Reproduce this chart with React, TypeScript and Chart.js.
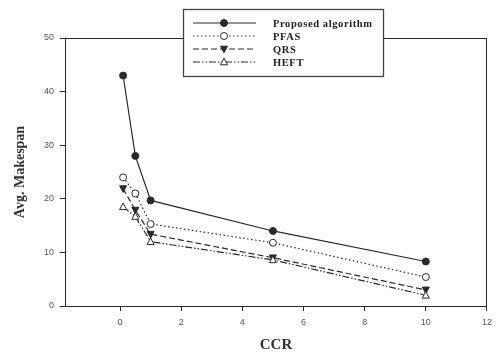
import React, { useEffect, useRef } from "react";
import { Chart, registerables } from "chart.js";

Chart.register(...registerables);

const ccr = [0.1, 0.5, 1, 5, 10];
const proposed = [43, 28, 19.7, 14, 8.3];
const pfas = [24, 21, 15.3, 11.8, 5.4];
const qrs = [21.9, 17.9, 13.4, 9, 3];
const heft = [18.5, 16.7, 12, 8.6, 2];
const seriesNames = ["Proposed algorithm", "PFAS", "QRS", "HEFT"];
const xTicks = [0, 2, 4, 6, 8, 10, 12];
const yTicks = [0, 10, 20, 30, 40, 50];

const INK = "#2a2a2a";

const toPts = (ys: number[]) => ys.map((y, i) => ({ x: ccr[i], y }));

const markerStyles = [
  { shape: "circle", fill: true, rot: 0 },
  { shape: "circle", fill: false, rot: 0 },
  { shape: "triangle", fill: true, rot: 180 },
  { shape: "triangle", fill: false, rot: 0 },
];
const dashes = [[], [1.5, 2.5], [6, 3], [7, 2, 1.5, 2, 1.5, 2]];

function drawMarker(ctx: CanvasRenderingContext2D, x: number, y: number, i: number) {
  const m = markerStyles[i];
  ctx.save();
  ctx.setLineDash([]);
  ctx.lineWidth = 1;
  ctx.strokeStyle = INK;
  ctx.fillStyle = m.fill ? INK : "#fff";
  ctx.beginPath();
  const r = 3.5;
  if (m.shape === "circle") {
    ctx.arc(x, y, r, 0, Math.PI * 2);
  } else {
    const s = m.rot === 180 ? -1 : 1;
    ctx.moveTo(x, y - s * r * 1.1);
    ctx.lineTo(x - r, y + s * r * 0.8);
    ctx.lineTo(x + r, y + s * r * 0.8);
    ctx.closePath();
  }
  ctx.fill();
  ctx.stroke();
  ctx.restore();
}

const frameAndLegend = {
  id: "frameAndLegend",
  afterDraw(chart: any) {
    const ctx = chart.ctx as CanvasRenderingContext2D;
    const a = chart.chartArea;
    ctx.save();
    ctx.strokeStyle = INK;
    ctx.lineWidth = 1;
    ctx.strokeRect(a.left + 0.5, a.top + 0.5, a.right - a.left - 1, a.bottom - a.top);
    // legend
    const bx = 183, by = 9, bw = 200, bh = 67;
    ctx.fillStyle = "#fff";
    ctx.fillRect(bx, by, bw, bh);
    ctx.lineWidth = 1.3;
    ctx.strokeStyle = "#444";
    ctx.strokeRect(bx + 0.5, by + 0.5, bw, bh);
    chart.data.datasets.forEach((ds: any, i: number) => {
      const y = 23 + i * 13;
      ctx.save();
      ctx.strokeStyle = INK;
      ctx.lineWidth = 1.2;
      ctx.setLineDash(ds.borderDash || []);
      ctx.beginPath();
      ctx.moveTo(193, y);
      ctx.lineTo(256, y);
      ctx.stroke();
      ctx.restore();
      drawMarker(ctx, 224, y, i);
      ctx.fillStyle = "#222";
      ctx.font = "bold 10.5px 'Liberation Serif', serif";
      (ctx as any).letterSpacing = "0.6px";
      ctx.textBaseline = "middle";
      ctx.textAlign = "left";
      ctx.fillText(ds.label, 273, y + 1);
      (ctx as any).letterSpacing = "0px";
    });
    ctx.restore();
  },
};

const markerPlugin = {
  id: "markers",
  afterDatasetsDraw(chart: any) {
    const ctx = chart.ctx;
    chart.data.datasets.forEach((_: any, i: number) => {
      const meta = chart.getDatasetMeta(i);
      meta.data.forEach((p: any) => drawMarker(ctx, p.x, p.y, i));
    });
  },
};

export default function App() {
  const ref = useRef<HTMLCanvasElement>(null);
  useEffect(() => {
    document.body.style.margin = "0";
    const datasets = [proposed, pfas, qrs, heft].map((d, i) => ({
      label: seriesNames[i],
      data: toPts(d),
      borderColor: INK,
      borderWidth: 1.2,
      borderDash: dashes[i],
      pointRadius: 0,
      fill: false,
      tension: 0,
    }));
    const chart = new Chart(ref.current!, {
      type: "line",
      data: { datasets },
      plugins: [markerPlugin, frameAndLegend],
      options: {
        animation: false,
        responsive: false,
        layout: { padding: { top: 38, right: 7, left: 0, bottom: 0 } },
        plugins: { legend: { display: false }, tooltip: { enabled: false } },
        scales: {
          x: {
            type: "linear",
            min: -1.8,
            max: 12,
            afterBuildTicks: (s: any) => {
              s.ticks = xTicks.map((v) => ({ value: v }));
            },
            afterFit: (s: any) => {
              s.height = 48;
            },
            border: { display: true, color: INK },
            grid: { drawOnChartArea: false, drawTicks: true, tickLength: 5, color: INK },
            ticks: {
              color: "#555",
              font: { family: "'Liberation Sans', sans-serif", size: 9 },
              padding: 6,
              maxRotation: 0,
            },
            title: {
              display: true,
              text: "CCR",
              color: "#333",
              font: { family: "'Liberation Serif', serif", size: 15, weight: "bold" },
              padding: { top: 0, bottom: 0 },
            },
          },
          y: {
            min: 0,
            max: 50,
            afterBuildTicks: (s: any) => {
              s.ticks = yTicks.map((v) => ({ value: v }));
            },
            afterFit: (s: any) => {
              s.width = 65;
            },
            border: { display: true, color: INK },
            grid: { drawOnChartArea: false, drawTicks: true, tickLength: 5, color: INK },
            ticks: {
              color: "#555",
              font: { family: "'Liberation Sans', sans-serif", size: 9 },
              padding: 6,
            },
            title: {
              display: true,
              text: "Avg. Makespan",
              color: "#333",
              font: { family: "'Liberation Serif', serif", size: 14, weight: "bold" },
              padding: { top: 12, bottom: 0 },
            },
          },
        },
      },
    } as any);
    return () => chart.destroy();
  }, []);
  return (
    <div style={{ width: 498, height: 354, background: "#fff" }}>
      <canvas ref={ref} width={498} height={354} />
    </div>
  );
}
